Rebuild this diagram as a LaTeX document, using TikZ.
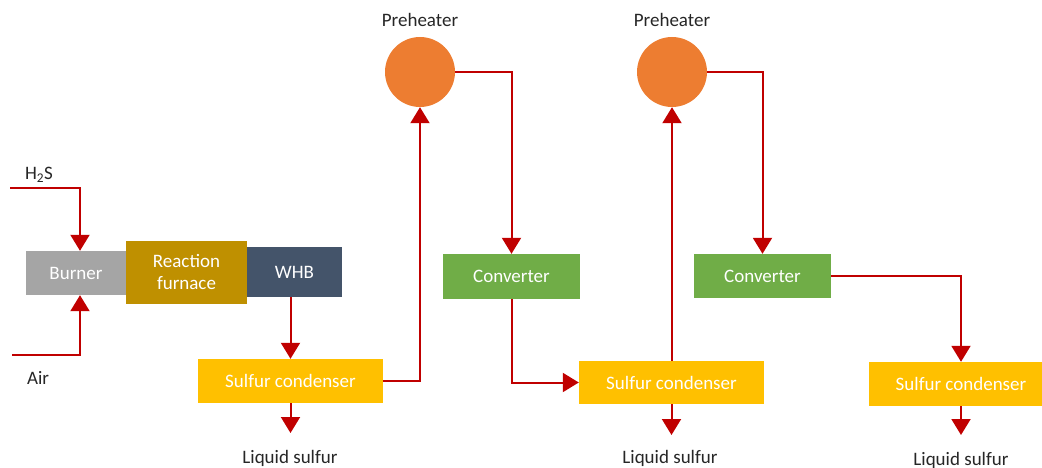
\documentclass[tikz,border=0pt]{standalone}
\usepackage{fontspec}
\setmainfont{Carlito}
\usetikzlibrary{arrows.meta}
\definecolor{flowred}{HTML}{C00000}
\definecolor{burnergray}{HTML}{A5A5A5}
\definecolor{furnacegold}{HTML}{BF9000}
\definecolor{whbslate}{HTML}{44546A}
\definecolor{condyellow}{HTML}{FFC000}
\definecolor{convgreen}{HTML}{70AD47}
\definecolor{heatorange}{HTML}{ED7D31}
\tikzset{
  unit/.style={rectangle, inner sep=0pt, text=white, align=center,
    font=\fontsize{19}{22}\selectfont},
  heater/.style={circle, fill=heatorange, minimum size=70pt, inner sep=0pt},
  flow/.style={draw=flowred, line width=2pt, -{Triangle[width=19pt,length=16pt]}},
  lbl/.style={text=black!85, inner sep=0pt, font=\fontsize{19}{22}\selectfont}
}
\begin{document}
\begin{tikzpicture}[x=1pt,y=-1pt]
\useasboundingbox (0,0) rectangle (1042,468);
% furnace section
\node[unit, fill=burnergray, minimum width=100pt, minimum height=44pt] (burner) at (76,273) {Burner};
\node[unit, fill=furnacegold, minimum width=121pt, minimum height=63pt] (furnace) at (186.5,272.5) {Reaction\\furnace};
\node[unit, fill=whbslate, minimum width=95pt, minimum height=50pt] (whb) at (294.5,272) {WHB};
\node[lbl] (h2slbl) at (39,175) {H\textsubscript{2}S};
\node[lbl] (airlbl) at (38,378) {Air};
\coordinate (h2sin) at (10,188);
\coordinate (airin) at (12,355);
\draw[flow] (h2sin) -| ([xshift=4pt]burner.north);
\draw[flow] (airin) -| ([xshift=4pt]burner.south);
% condensers
\node[unit, fill=condyellow, minimum width=185pt, minimum height=44pt] (cond1) at (290.5,381) {Sulfur condenser};
\node[unit, fill=condyellow, minimum width=185pt, minimum height=43pt] (cond2) at (671.5,382.5) {Sulfur condenser};
\node[unit, fill=condyellow, minimum width=184pt, minimum height=44pt] (cond3) at (961,384) {Sulfur condenser};
% preheaters and converters
\node[heater] (pre1) at (420,72) {};
\node[heater] (pre2) at (672,72) {};
\node[lbl] (pre1lbl) at (420,20) {Preheater};
\node[lbl] (pre2lbl) at (672,20) {Preheater};
\node[unit, fill=convgreen, minimum width=137pt, minimum height=45pt] (conv1) at (511.5,276.5) {Converter};
\node[unit, fill=convgreen, minimum width=137pt, minimum height=44pt] (conv2) at (762.5,276) {Converter};
% main gas path
\draw[flow] (cond1.north |- whb.south) -- (cond1.north);
\draw[flow] (cond1.east) -| (pre1.south);
\draw[flow] (pre1.east) -| (conv1.north);
\draw[flow] (conv1.south) |- (cond2.west);
\draw[flow] (cond2.north -| pre2.south) -- (pre2.south);
\draw[flow] (pre2.east) -| (conv2.north);
\draw[flow] (conv2.east) -| (cond3.north);
% liquid sulfur outlets
\coordinate (out1) at (290.5,433);
\coordinate (out2) at (671.5,435);
\coordinate (out3) at (961,435);
\draw[flow] (cond1.south) -- (out1);
\draw[flow] (cond2.south) -- (out2);
\draw[flow] (cond3.south) -- (out3);
\node[lbl] (liq1) at (290,458) {Liquid sulfur};
\node[lbl] (liq2) at (670,458) {Liquid sulfur};
\node[lbl] (liq3) at (961,460) {Liquid sulfur};
\end{tikzpicture}
\end{document}
